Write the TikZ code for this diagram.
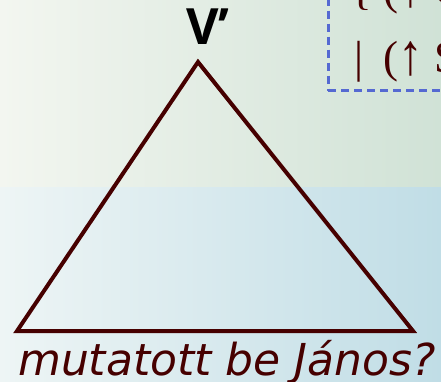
\documentclass[tikz,border=0pt]{standalone}
\usepackage{fontspec}
\setmainfont{Liberation Serif}
\newfontfamily\capfont{DejaVu Sans}
\newfontfamily\labfont{Open Sans}
\usetikzlibrary{positioning}

\definecolor{treebrown}{RGB}{70,0,0}
\definecolor{boxblue}{RGB}{85,105,210}
\definecolor{bgtopl}{RGB}{243,246,240}
\definecolor{bgtopr}{RGB}{208,226,214}
\definecolor{bgbotl}{RGB}{238,245,245}
\definecolor{bgbotr}{RGB}{192,221,230}

\newcommand{\uparr}{\raisebox{-0.04em}{\scalebox{1.1}[1.3]{↑}}}

\begin{document}
\begin{tikzpicture}[
        x=1pt, y=-1pt,
        branch/.style={draw=treebrown, line width=4pt, line join=miter},
        catlabel/.style={font=\labfont\bfseries\fontsize{50}{50}\selectfont, text=black, inner sep=0pt},
        wordlabel/.style={font=\capfont\itshape\fontsize{44}{44}\selectfont, text=treebrown, inner sep=0pt},
        annotbox/.style={draw=boxblue, line width=2.8pt, dash pattern=on 8pt off 5pt, inner sep=0pt},
        annot/.style={font=\fontsize{45}{45}\selectfont, text=treebrown, inner sep=0pt}
    ]
        \useasboundingbox (0,0) rectangle (441,382);
        \clip (0,0) rectangle (441,382);
        % backdrop
        \shade[left color=bgtopl, right color=bgtopr] (0,0) rectangle (441,187);
        \shade[left color=bgbotl, right color=bgbotr] (0,187) rectangle (441,382);

        % tree
        \node[catlabel, anchor=base] (vbar) at (208,45) {V’};
        \coordinate (apex) at (198,62);
        \coordinate (leftfoot) at (17,331);
        \coordinate (rightfoot) at (413,331);
        \draw[branch] (apex) -- (leftfoot) -- (rightfoot) -- cycle;
        \node[wordlabel, anchor=base west] (words) at (18,375) {mutatott be János?};

        % annotation box (cut by the page edge)
        \node[annotbox, anchor=south west, minimum width=160pt, minimum height=140pt] (abox) at (327,92) {};
        \node[annot, anchor=base west] (alt1) at (350,5) {\{ (\uparr\ OBJ)};
        \node[annot, anchor=base west] (alt2) at (354,73) {|\hspace{0.45em}(\uparr\ SUBJ)};
    \end{tikzpicture}
\end{document}
